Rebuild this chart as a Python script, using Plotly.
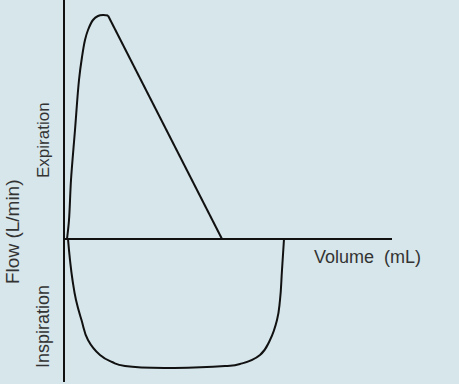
import plotly.graph_objects as go

# Flow-volume loop (volume in mL, flow in L/min)
exp_volume = [6, 10, 14, 22, 30, 36, 42, 48, 58, 68, 78, 88, 316]
exp_flow = [0, 9.5, 29.5, 54.5, 79.5, 91, 99.5, 104.5, 109.5, 111.5, 112, 111.75, 0]

insp_volume = [8, 12, 17, 24, 35, 48, 72, 96, 122, 322, 352, 392, 412, 426, 432, 436, 440]
insp_flow = [0, -10.5, -20.5, -30.5, -40.5, -50.5, -58, -61.5, -63.5, -63.5, -62.5, -58, -50.5, -40.5, -30.5, -15.5, 0]

axis_x_volume = [0, 656]
axis_x_flow = [0, 0]
axis_y_volume = [0, 0]
axis_y_flow = [119.5, -71.5]

x_label = "Volume  (mL)"
y_label = "Flow (L/min)"
upper_label = "Expiration"
lower_label = "Inspiration"

line_color = "#111111"
text_color = "#333333"
bg = "#d6e6ea"

fig = go.Figure()
fig.add_trace(go.Scatter(x=axis_x_volume, y=axis_x_flow, mode="lines",
                         line=dict(color=line_color, width=2), hoverinfo="skip"))
fig.add_trace(go.Scatter(x=axis_y_volume, y=axis_y_flow, mode="lines",
                         line=dict(color=line_color, width=2), hoverinfo="skip"))
fig.add_trace(go.Scatter(x=exp_volume[:-1], y=exp_flow[:-1], mode="lines",
                         line=dict(color=line_color, width=2, shape="spline", smoothing=1.0)))
fig.add_trace(go.Scatter(x=exp_volume[-2:], y=exp_flow[-2:], mode="lines",
                         line=dict(color=line_color, width=2)))
fig.add_trace(go.Scatter(x=insp_volume, y=insp_flow, mode="lines",
                         line=dict(color=line_color, width=2, shape="spline", smoothing=1.3)))

font = "Liberation Sans, Arial, sans-serif"
fig.add_annotation(x=606, y=-9, text=x_label, showarrow=False,
                   font=dict(family=font, size=18, color=text_color))
fig.add_annotation(x=-104, y=3.5, text=y_label, showarrow=False, textangle=-90,
                   font=dict(family=font, size=19, color=text_color))
fig.add_annotation(x=-42, y=49.5, text=upper_label, showarrow=False, textangle=-90,
                   font=dict(family=font, size=17, color=text_color))
fig.add_annotation(x=-42, y=-44, text=lower_label, showarrow=False, textangle=-90,
                   font=dict(family=font, size=18, color=text_color))

fig.update_layout(
    width=459, height=384,
    margin=dict(l=0, r=0, t=0, b=0),
    paper_bgcolor=bg, plot_bgcolor=bg,
    showlegend=False,
    xaxis=dict(range=[-128, 790], visible=False, fixedrange=True),
    yaxis=dict(range=[-72.5, 119.5], visible=False, fixedrange=True),
)

fig.write_html("out.html")
